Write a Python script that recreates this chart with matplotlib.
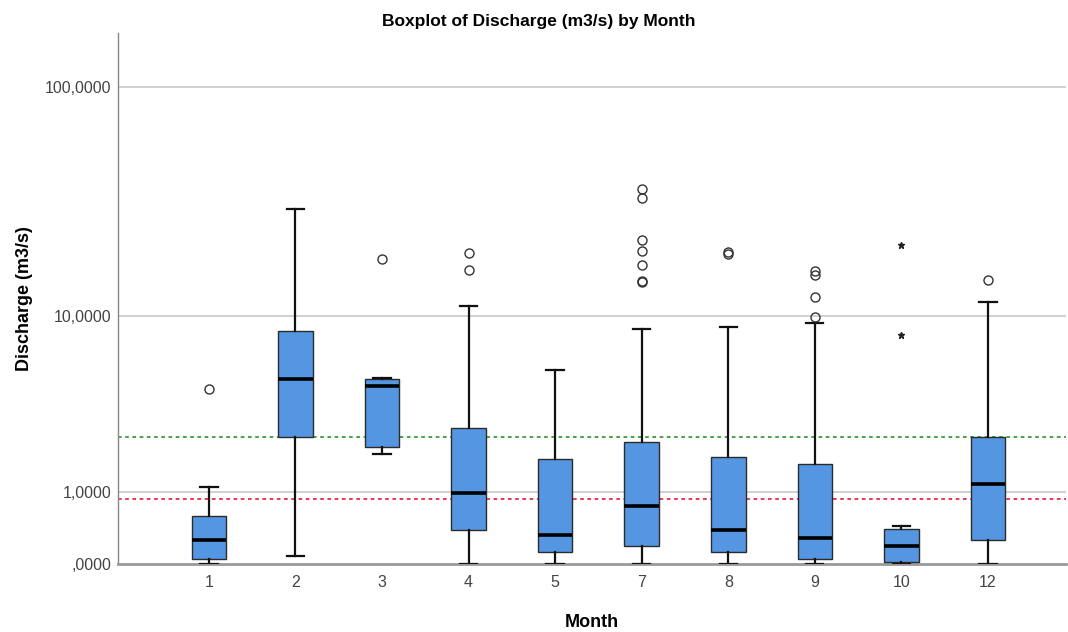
import numpy as np
import matplotlib
matplotlib.use("Agg")
from matplotlib import pyplot as plt

# month categories and box statistics (m3/s)
months = ["1", "2", "3", "4", "5", "7", "8", "9", "10", "12"]
whisker_low = [0.0, 0.08, 1.91, 0.0, 0.0, 0.0, 0.0, 0.0, 0.0, 0.0]
q1 = [0.05, 2.40, 2.09, 0.385, 0.127, 0.194, 0.12, 0.046, 0.023, 0.261]
median = [0.265, 5.01, 4.60, 0.98, 0.324, 0.758, 0.389, 0.29, 0.19, 1.168]
q3 = [0.591, 8.50, 5.01, 2.72, 1.77, 2.245, 1.807, 1.624, 0.403, 2.428]
whisker_high = [1.10, 30.0, 5.02, 11.13, 5.55, 8.71, 8.87, 9.26, 0.449, 11.58]
outliers = [
    [4.45],
    [],
    [18.06],
    [19.32, 16.24],
    [],
    [36.6, 33.3, 21.98, 19.6, 16.99, 14.5, 14.3],
    [19.46, 19.0],
    [15.97, 15.33, 12.24, 9.88],
    [],
    [14.65],
]
extremes = [[], [], [], [], [], [], [], [], [20.97, 8.14], []]

red_ref = 0.876
green_ref = 2.418

y_ticks = [0, 1, 10, 100]
y_tick_labels = [",0000", "1,0000", "10,0000", "100,0000"]


def safe_log(v):
    return np.log10(np.asarray(v, dtype=float) + 1)


def safe_log_inv(t):
    return 10 ** np.asarray(t, dtype=float) - 1


def main():
    plt.rcParams["font.family"] = ["Liberation Sans", "DejaVu Sans"]
    fig = plt.figure(figsize=(10.68, 6.32), dpi=100)
    ax = fig.add_axes([0.1105, 0.1076, 0.8875, 0.8402])
    ax.set_yscale("function", functions=(safe_log, safe_log_inv))

    stats = []
    for i, m in enumerate(months):
        stats.append({
            "label": m,
            "whislo": whisker_low[i],
            "q1": q1[i],
            "med": median[i],
            "q3": q3[i],
            "whishi": whisker_high[i],
            "fliers": outliers[i],
        })

    ax.bxp(
        stats,
        positions=range(len(months)),
        widths=0.4,
        capwidths=0.2,
        patch_artist=True,
        boxprops=dict(facecolor="#5596e3", edgecolor="#2b2b2b", linewidth=1.0),
        medianprops=dict(color="black", linewidth=2.6),
        whiskerprops=dict(color="#111111", linewidth=1.6),
        capprops=dict(color="#111111", linewidth=1.6),
        flierprops=dict(marker="o", markerfacecolor="none",
                        markeredgecolor="#333333", markersize=6.5,
                        markeredgewidth=1.0, linestyle="none"),
        zorder=3,
    )
    for i, ext in enumerate(extremes):
        if ext:
            ax.plot([i] * len(ext), ext, linestyle="none", marker="*",
                    color="#222222", markersize=5, zorder=4)

    ax.axhline(red_ref, color="#e8274b", linestyle=(0, (2, 2)), linewidth=1.3, zorder=2)
    ax.axhline(green_ref, color="#3a9a3a", linestyle=(0, (2, 2)), linewidth=1.3, zorder=2)

    for t in y_ticks[1:]:
        ax.axhline(t, color="#d0d0d0", linewidth=1.4, zorder=1)

    ax.set_ylim(0, 169)
    ax.set_xlim(-1.05, 9.9)
    ax.set_yticks(y_ticks)
    ax.set_yticklabels(y_tick_labels)
    ax.set_xticks(range(len(months)))
    ax.set_xticklabels(months)
    ax.tick_params(axis="both", length=0, labelsize=11.5, colors="#444444", pad=8)
    ax.tick_params(axis="y", pad=5)

    for side in ["top", "right"]:
        ax.spines[side].set_visible(False)
    ax.spines["left"].set_color("#888888")
    ax.spines["left"].set_linewidth(1.0)
    ax.spines["bottom"].set_color("#999999")
    ax.spines["bottom"].set_linewidth(2.0)

    ax.set_title("Boxplot of Discharge (m3/s) by Month", fontsize=12.5,
                 fontweight="bold", pad=5, x=0.444)
    ax.set_xlabel("Month", fontsize=13, fontweight="bold", labelpad=17)
    ax.set_ylabel("Discharge (m3/s)", fontsize=13, fontweight="bold", labelpad=8)

    fig.savefig("out.png", dpi=100)


if __name__ == "__main__":
    main()
